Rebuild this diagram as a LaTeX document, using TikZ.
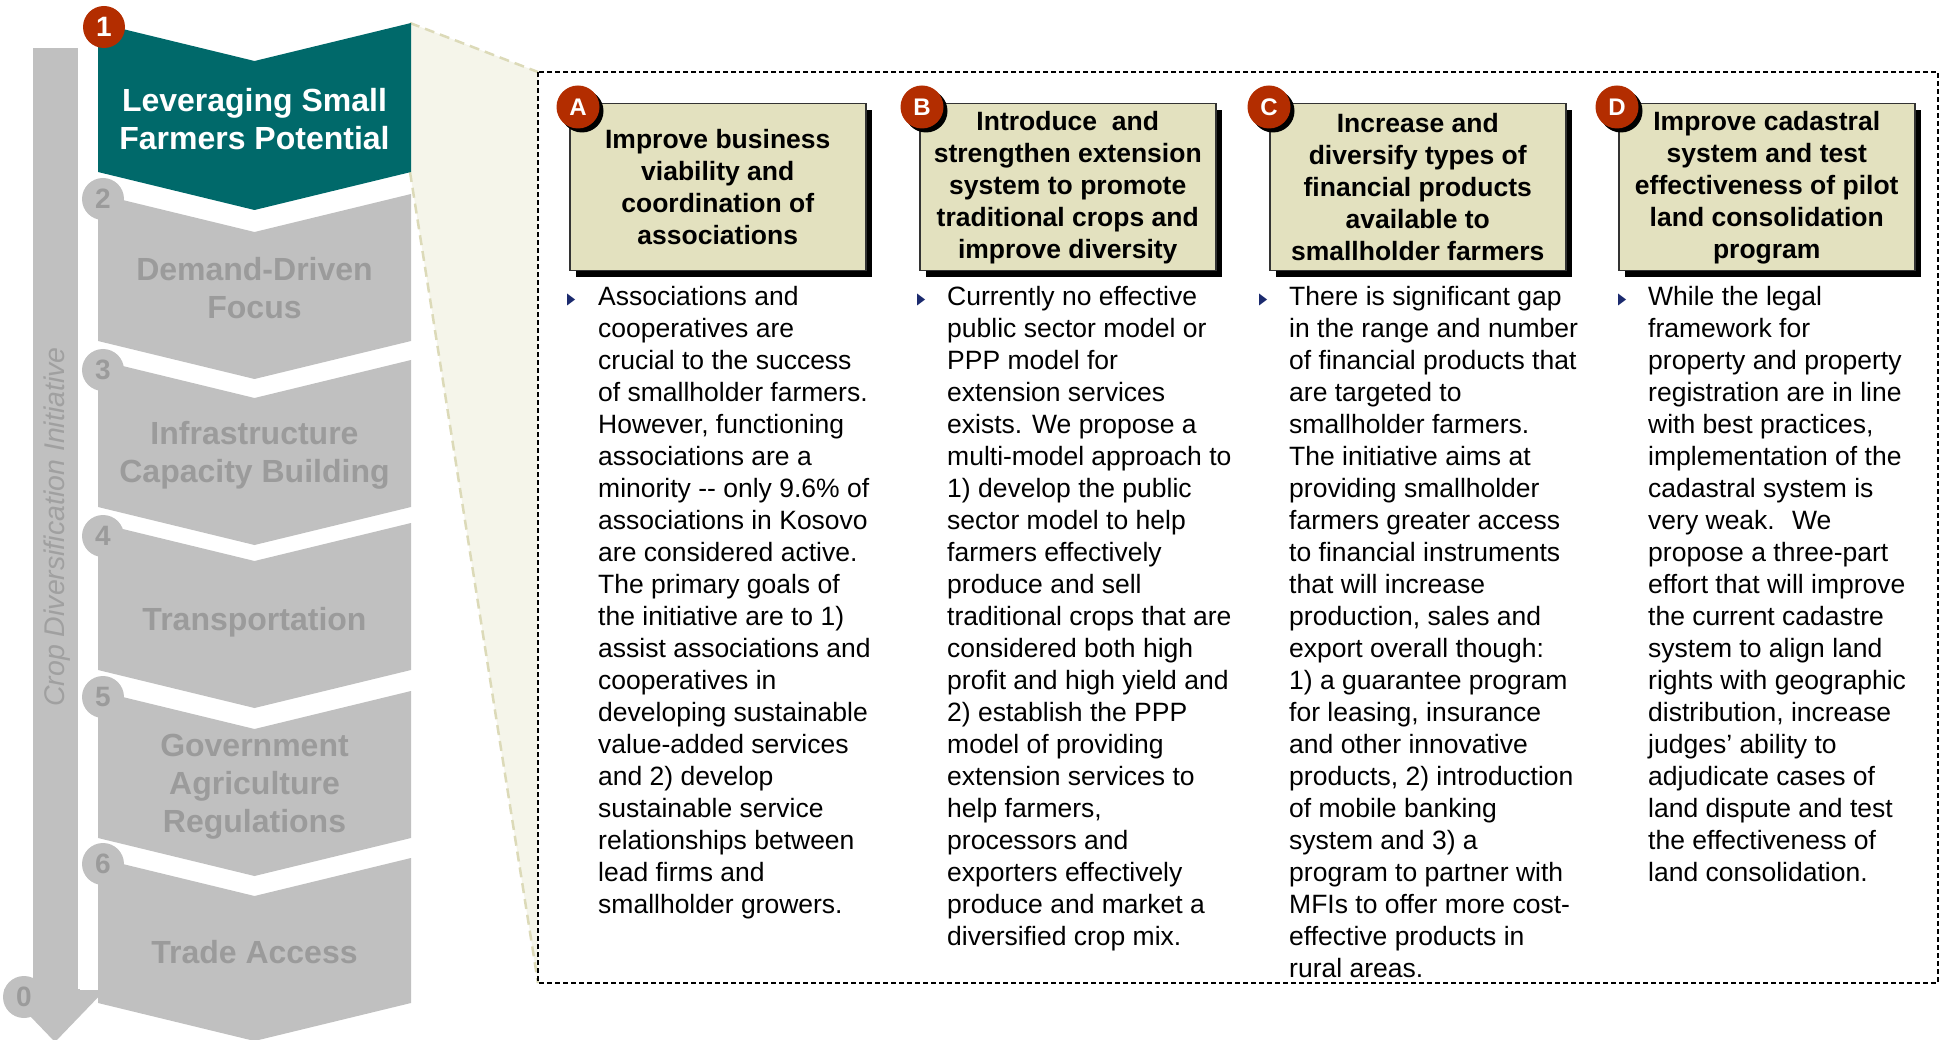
\documentclass[tikz,border=0pt]{standalone}
\usepackage{fontspec}
\setmainfont{Liberation Sans}
\usetikzlibrary{shadows}
\definecolor{tealc}{HTML}{00696A}
\definecolor{gry}{HTML}{C0C0C0}
\definecolor{gtxt}{HTML}{9B9B9B}
\definecolor{redc}{HTML}{B32D00}
\definecolor{khaki}{HTML}{E3E1BF}
\definecolor{beige}{HTML}{F5F5EA}
\definecolor{beigeln}{HTML}{DCDAB8}
\definecolor{navy}{HTML}{1B2A6E}
\tikzset{
  chevtext/.style={align=center, inner sep=0pt, font=\bfseries\fontsize{32}{38}\selectfont},
  numcirc/.style={circle, inner sep=0pt, minimum size=42pt, fill=gry, text=gtxt, font=\bfseries\fontsize{28}{28}\selectfont},
  hbox/.style={draw=black!80, line width=1.5pt, fill=khaki, anchor=north west, minimum width=296pt, minimum height=167pt,
    inner sep=0pt, align=center, font=\bfseries\fontsize{26.5}{32}\selectfont,
    drop shadow={shadow xshift=6pt, shadow yshift=-6pt, opacity=1, fill=black}},
  letcirc/.style={circle, inner sep=0pt, minimum size=43pt, fill=redc, text=white, font=\bfseries\fontsize{24}{24}\selectfont,
    drop shadow={shadow xshift=4pt, shadow yshift=-4pt, opacity=1, fill=black}},
  bodytext/.style={anchor=north west, inner sep=0pt, align=left, font=\fontsize{26.5}{32}\selectfont},
  bullet/.style={fill=navy}
}
\begin{document}
\begin{tikzpicture}[x=1pt,y=-1pt]
\useasboundingbox (0,0) rectangle (1944,1040);

% zoom connector region
\fill[beige] (410,23) -- (538,72) -- (538,983) -- (410,172) -- cycle;
\draw[beigeln, line width=2.5pt, dash pattern=on 10pt off 6pt] (410,23) -- (538,72);
\draw[beigeln, line width=2.5pt, dash pattern=on 10pt off 6pt] (410,172) -- (538,983);

% dashed frame
\draw[black, line width=1.4pt, dash pattern=on 5pt off 3pt] (538,72) rectangle (1938,983);

% left vertical arrow
\fill[gry] (33,48) rectangle (78,989);
\fill[gry] (4,989) -- (106,989) -- (55,1042) -- cycle;
\node[rotate=90, inner sep=0pt, text=gtxt!95, font=\itshape\fontsize{28.5}{28.5}\selectfont] (crop) at (57,527) {Crop Diversification Initiative};

% chevrons
\fill[tealc] (98,23) -- (254.5,61) -- (411,23) -- (411,172) -- (254.5,210) -- (98,172) -- cycle;
\foreach \t/\b in {194/341, 360/507, 523/670, 691/838, 858/1003}{
  \fill[gry] (98,\t) -- (254.5,\t+38) -- (411,\t) -- (411,\b) -- (254.5,\b+38) -- (98,\b) -- cycle;
}
\draw[white, line width=2pt] (80,989) -- (98,989);

\node[chevtext, text=white] (c1) at (254.5,119) {Leveraging Small\\Farmers Potential};
\node[chevtext, text=gtxt] (c2) at (254.5,288.5) {Demand-Driven\\Focus};
\node[chevtext, text=gtxt] (c3) at (254.5,455.5) {Infrastructure\\Capacity Building};
\node[chevtext, text=gtxt] (c4) at (254.5,622) {Transportation};
\node[chevtext, text=gtxt] (c5) at (254.5,787) {Government\\Agriculture\\Regulations};
\node[chevtext, text=gtxt] (c6) at (254.5,952) {Trade Access};

% number circles
\node[numcirc, fill=redc, text=white] (n1) at (104,27) {1};
\node[numcirc] (n2) at (103,199) {2};
\node[numcirc] (n3) at (103,370) {3};
\node[numcirc] (n4) at (103,536) {4};
\node[numcirc] (n5) at (103,697) {5};
\node[numcirc] (n6) at (103,864) {6};
\node[numcirc] (n0) at (24,997) {0};

% heading boxes
\node[hbox] (ha) at (569,103) {Improve business\\viability and\\coordination of\\associations};
\node[hbox] (hb) at (919,103) {Introduce \ and\\strengthen extension\\system to promote\\traditional crops and\\improve diversity};
\node[hbox] (hc) at (1269,103) {Increase and\\diversify types of\\financial products\\available to\\smallholder farmers};
\node[hbox] (hd) at (1618,103) {Improve cadastral\\system and test\\effectiveness of pilot\\land consolidation\\program};

\node[letcirc] (la) at (578,107) {A};
\node[letcirc] (lb) at (922,107) {B};
\node[letcirc] (lc) at (1269,107) {C};
\node[letcirc] (ld) at (1617,107) {D};

% bullets
\foreach \bx in {567, 917, 1259, 1618}{
  \fill[bullet] (\bx,293.5) -- (\bx+8,299.5) -- (\bx,305.5) -- cycle;
}

% body texts
\node[bodytext] (ta) at (598,281) {\rule{0pt}{24pt}Associations and\\
cooperatives are\\
crucial to the success\\
of smallholder farmers.\\
However, functioning\\
associations are a\\
minority -{}- only 9.6\% of\\
associations in Kosovo\\
are considered active.\\
The primary goals of\\
the initiative are to 1)\\
assist associations and\\
cooperatives in\\
developing sustainable\\
value-added services\\
and 2) develop\\
sustainable service\\
relationships between\\
lead firms and\\
smallholder growers.};

\node[bodytext] (tb) at (947,281) {\rule{0pt}{24pt}Currently no effective\\
public sector model or\\
PPP model for\\
extension services\\
exists. We propose a\\
multi-model approach to\\
1) develop the public\\
sector model to help\\
farmers effectively\\
produce and sell\\
traditional crops that are\\
considered both high\\
profit and high yield and\\
2) establish the PPP\\
model of providing\\
extension services to\\
help farmers,\\
processors and\\
exporters effectively\\
produce and market a\\
diversified crop mix.};

\node[bodytext] (tc) at (1289,281) {\rule{0pt}{24pt}There is significant gap\\
in the range and number\\
of financial products that\\
are targeted to\\
smallholder farmers.\\
The initiative aims at\\
providing smallholder\\
farmers greater access\\
to financial instruments\\
that will increase\\
production, sales and\\
export overall though:\\
1) a guarantee program\\
for leasing, insurance\\
and other innovative\\
products, 2) introduction\\
of mobile banking\\
system and 3) a\\
program to partner with\\
MFIs to offer more cost-\\
effective products in\\
rural areas.};

\node[bodytext] (td) at (1648,281) {\rule{0pt}{24pt}While the legal\\
framework for\\
property and property\\
registration are in line\\
with best practices,\\
implementation of the\\
cadastral system is\\
very weak. \ We\\
propose a three-part\\
effort that will improve\\
the current cadastre\\
system to align land\\
rights with geographic\\
distribution, increase\\
judges’ ability to\\
adjudicate cases of\\
land dispute and test\\
the effectiveness of\\
land consolidation.};
\end{tikzpicture}
\end{document}
